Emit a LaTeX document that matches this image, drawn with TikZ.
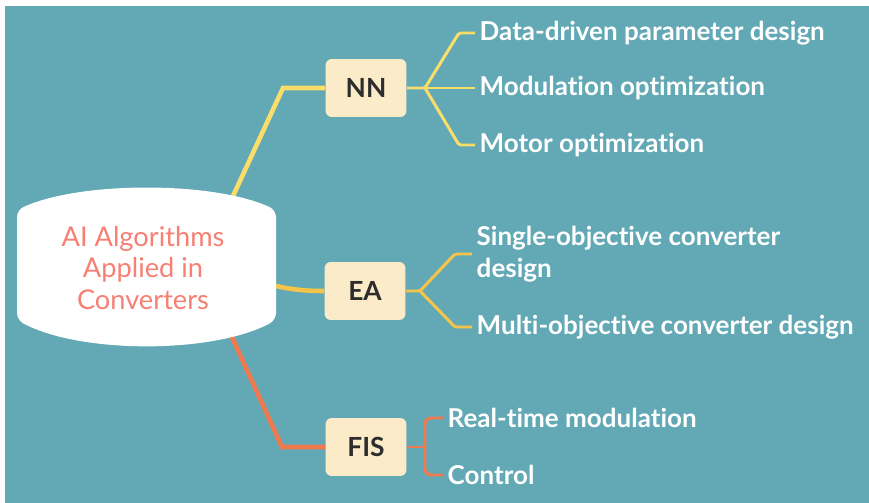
\documentclass[tikz,border=0pt]{standalone}
\usepackage{fontspec}
\setmainfont{Lato}[Ligatures=NoCommon]
\usepackage{tikz}
\usetikzlibrary{positioning}

\definecolor{bgteal}{RGB}{98,169,181}
\definecolor{boxcream}{RGB}{252,235,200}
\definecolor{nnyellow}{RGB}{250,222,105}
\definecolor{eagold}{RGB}{246,196,72}
\definecolor{fisorange}{RGB}{240,122,78}
\definecolor{rootsalmon}{RGB}{246,128,116}
\definecolor{boxtext}{RGB}{45,45,45}

\tikzset{
	algobox/.style={fill=boxcream, rounded corners=3.5pt, minimum width=46pt,
		minimum height=33pt, font=\fontsize{15}{18}\selectfont\bfseries, text=boxtext},
	leaf/.style={anchor=west, inner xsep=2.5pt, text=white, align=left,
		font=\fontsize{14.8}{18.2}\selectfont\bfseries},
	trunk/.style={line width=2.6pt},
	twig/.style={line width=1.7pt, rounded corners=1pt}
}

\begin{document}
\begin{tikzpicture}[x=0.02cm, y=-0.02cm]
		% Background
		\useasboundingbox (0,0) rectangle (869,503);
		\fill[bgteal] (5,6) rectangle (869,503);

		% Algorithm boxes
		\node[algobox] (nn) at (366,88) {NN};
		\node[algobox] (ea) at (365,291) {EA};
		\node[algobox] (fis) at (366,447) {FIS};

		% Leaves
		\node[leaf] (dd) at (475,33) {Data-driven parameter design};
		\node[leaf] (mo) at (475,88) {Modulation optimization};
		\node[leaf] (mt) at (475,145) {Motor optimization};
		\node[leaf] (sc) at (472,254) {Single-objective converter\\design};
		\node[leaf] (mc) at (472,327) {Multi-objective converter design};
		\node[leaf] (rt) at (443,418) {Real-time modulation};
		\node[leaf] (ct) at (443,475) {Control};

		% Trunks from the root (drawn under the white shape)
		\coordinate (rootc) at (143,268);
		\draw[trunk, nnyellow] (215,235) -- (283,88) -- (nn.west);
		\draw[trunk, eagold] (250,283) .. controls (275,283) and (282,291) .. (ea.west);
		\draw[trunk, fisorange] (215,300) -- (282,447) -- (fis.west);

		% Root shape
		\fill[white, rounded corners=4pt] (17,260) -- (17,210)
			.. controls (80,181) and (213,181) .. (276,210) -- (276,320)
			.. controls (213,354) and (80,354) .. (17,320) -- cycle;
		\node[align=center, text=rootsalmon, font=\fontsize{15.5}{17.8}\selectfont]
			(root) at (rootc) {AI Algorithms\\Applied in\\Converters};

		% NN branches
		\coordinate (nnj) at (425,88);
		\draw[twig, nnyellow] (nn.east) -- (nnj) -- (459,33) -- (dd.west);
		\draw[twig, nnyellow] (nnj) -- (mo.west);
		\draw[twig, nnyellow] (nnj) -- (459,145) -- (mt.west);

		% EA branches
		\coordinate (eaj) at (420,291);
		\draw[twig, eagold] (ea.east) -- (eaj) -- (455,254) -- (sc.west);
		\draw[twig, eagold] (eaj) -- (455,327) -- (mc.west);

		% FIS branches
		\coordinate (fisj) at (425,447);
		\draw[twig, fisorange] (fis.east) -- (fisj);
		\draw[twig, fisorange, rounded corners=3.5pt] (rt.west) -- (425,418) -- (425,475) -- (ct.west);
	\end{tikzpicture}
\end{document}
